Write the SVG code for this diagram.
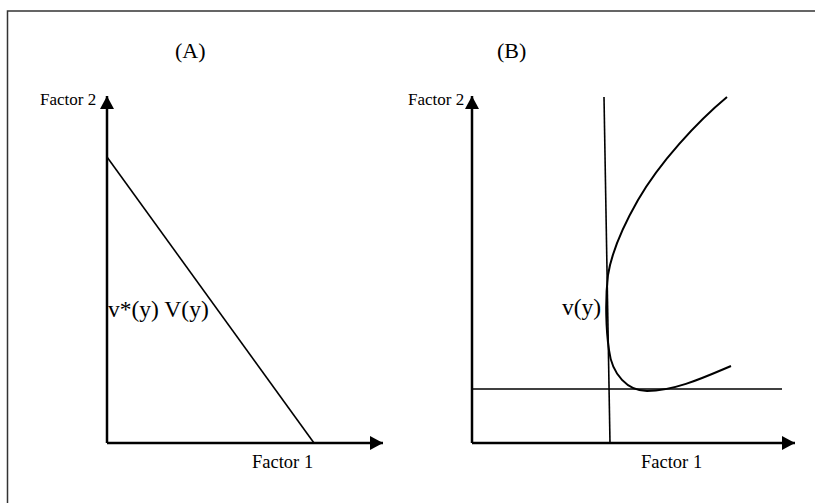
<svg xmlns="http://www.w3.org/2000/svg" width="815" height="503" viewBox="0 0 815 503">
<defs>
<marker id="arr" markerWidth="14" markerHeight="14" refX="13" refY="7" orient="auto" markerUnits="userSpaceOnUse">
<path d="M0,0 L13,7 L0,14 Z" fill="#000"/>
</marker>
<style>
.t{font-family:"Liberation Serif","Times New Roman",serif;fill:#000}
.ax{stroke:#000;stroke-width:2.5;fill:none}
.ln{stroke:#000;stroke-width:1.6;fill:none}
.cv{stroke:#000;stroke-width:2;fill:none}
</style>
</defs>
<rect x="0" y="0" width="815" height="503" fill="#fff"/>
<rect x="7.5" y="11" width="820" height="500" fill="none" stroke="#333" stroke-width="1.5"/>
<g id="panelA">
<text class="t" x="175" y="58" font-size="22">(A)</text>
<text class="t" x="40" y="105" font-size="17">Factor 2</text>
<text class="t" x="252" y="468" font-size="18.5">Factor 1</text>
<text class="t" x="108" y="317" font-size="23.5">v*(y) V(y)</text>
</g>
<g id="panelB">
<text class="t" x="497" y="58" font-size="22">(B)</text>
<text class="t" x="408" y="105" font-size="17">Factor 2</text>
<text class="t" x="641" y="468" font-size="18.5">Factor 1</text>
<text class="t" x="562" y="315" font-size="23.5">v(y)</text>
</g>
<g id="connectors">
<path class="ax" d="M107,443 L107,96" marker-end="url(#arr)"/>
<path class="ax" d="M107,443 L383,443" marker-end="url(#arr)"/>
<path class="ln" d="M107,157 L314,443"/>
<path class="ax" d="M472,443 L472,96" marker-end="url(#arr)"/>
<path class="ax" d="M472,443 L795,443" marker-end="url(#arr)"/>
<path class="ln" d="M472,389 L782,389"/>
<path class="ln" d="M604,97 L610,443"/>
<path class="cv" d="M727,97 C697,122 660,162 638,200 C626,221 612,250 608,275 C605,300 606,330 609,350 C612,375 628,391 647,391 C675,391 705,377 731,366"/>
</g>
</svg>
